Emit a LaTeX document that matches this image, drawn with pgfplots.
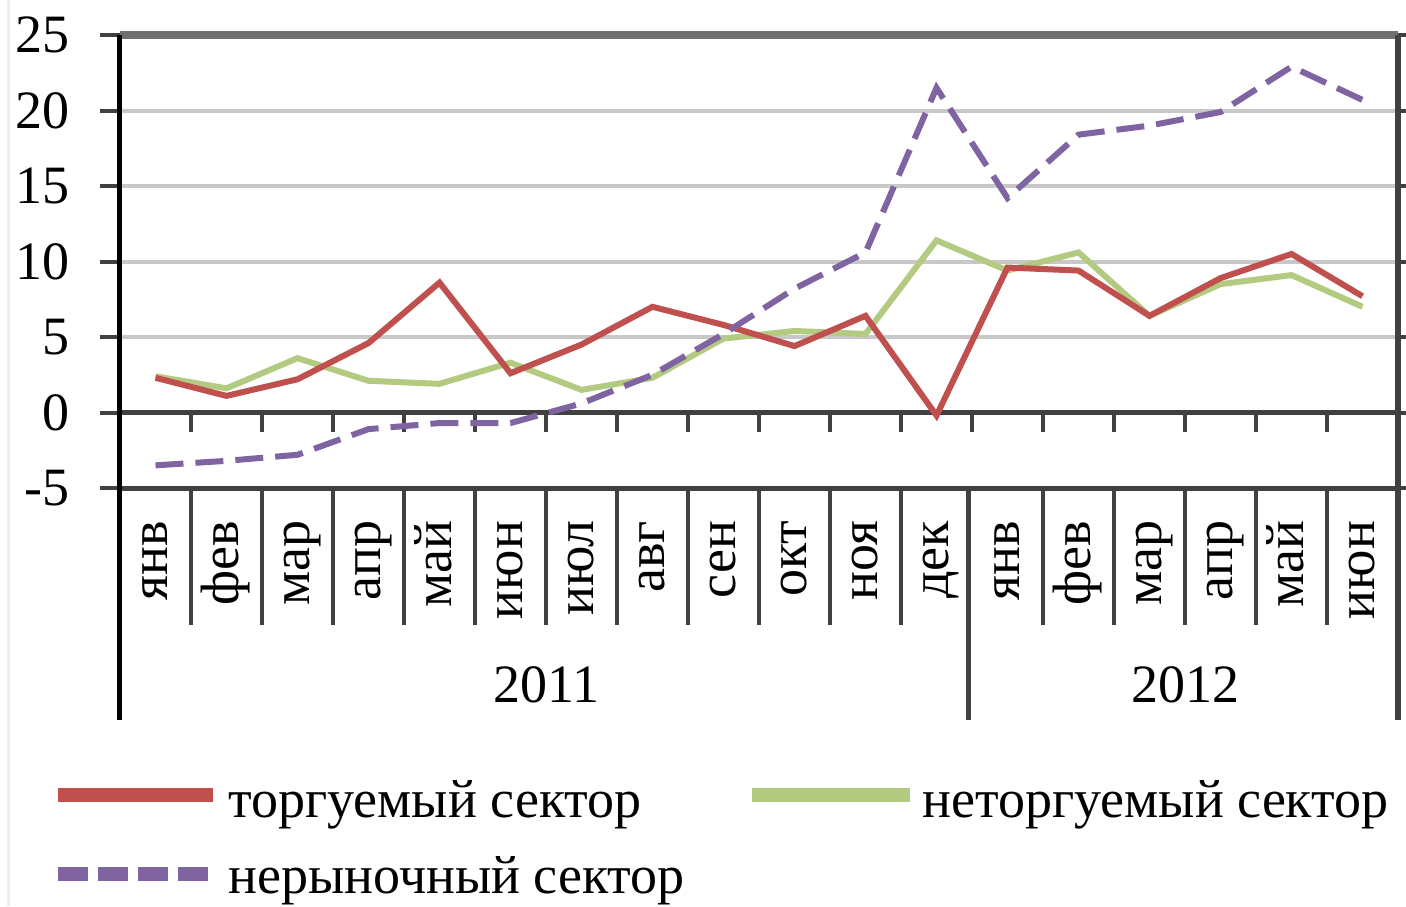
\documentclass[border=0pt]{standalone}
\usepackage{fontspec}
\setmainfont{Liberation Serif}
\usepackage{pgfplots}
\pgfplotsset{compat=1.18}
\definecolor{tred}{HTML}{C0504D}
\definecolor{tgreen}{HTML}{B3CB80}
\definecolor{tpurple}{HTML}{8064A2}
\definecolor{gridc}{HTML}{C8C8C8}
\definecolor{darkax}{HTML}{404040}
\definecolor{topax}{HTML}{707070}
\begin{document}
\fontsize{27}{32}\selectfont
\begin{tikzpicture}
\path[use as bounding box] (-60pt,-209pt) rectangle (643pt,244pt);
\draw[black!7, line width=1.5pt] (-55.5pt,-209pt) -- (-55.5pt,244pt);
\begin{axis}[
  at={(0pt,0pt)}, anchor=south west,
  scale only axis, width=639pt, height=226.5pt,
  xmin=-0.5, xmax=17.5, ymin=-5, ymax=25,
  axis line style={draw=none},
  xtick=\empty,
  ytick={-5,0,5,10,15,20,25},
  yticklabels={-5,0,5,10,15,20,25},
  tick align=outside, major tick length=10pt,
  ytick style={draw=darkax, line width=2pt},
  yticklabel style={font=\fontsize{27}{32}\selectfont, xshift=-6pt},
  ymajorgrids, grid style={draw=gridc, line width=2pt},
  clip=false,
]
% frame and axis lines
\draw[topax, line width=4pt] (axis cs:-0.5,25) -- (axis cs:17.5,25);
\draw[darkax, line width=2.5pt] (axis cs:-0.5,0) -- (axis cs:17.5,0);
\draw[darkax, line width=2.5pt] (axis cs:-0.5,-5) -- (axis cs:17.5,-5);
\draw[darkax, line width=3pt] (axis cs:17.5,25) -- (axis cs:17.5,-20.36);
\draw[darkax, line width=2.5pt] (axis cs:11.45,-5) -- (axis cs:11.45,-20.36);
\draw[black, line width=2.5pt] (axis cs:-0.5,25) -- (axis cs:-0.5,-20.36);
\foreach \k in {0.5,1.5,...,16.5} {
  \edef\tmp{\noexpand\draw[darkax, line width=2pt] (axis cs:\k,0) -- (axis cs:\k,-1.32);}\tmp
}
\foreach \k in {0.5,1.5,...,10.5,12.5,13.5,...,16.5} {
  \edef\tmp{\noexpand\draw[darkax, line width=2pt] (axis cs:\k,-5) -- (axis cs:\k,-14.07);}\tmp
}
% month labels
\foreach \m [count=\i from 0] in {янв,фев,мар,апр,май,июн,июл,авг,сен,окт,ноя,дек,янв,фев,мар,апр,май,июн} {
  \edef\tmp{\noexpand\node[rotate=90, anchor=base east, inner sep=0pt, font=\noexpand\fontsize{27}{32}\noexpand\selectfont] at (axis cs:\i+0.17,-7.15) {\m};}\tmp
}
\node[font=\fontsize{27}{32}\selectfont] at (axis cs:5.5,-18.05) {2011};
\node[font=\fontsize{27}{32}\selectfont] at (axis cs:14.5,-18.05) {2012};

\addplot[tgreen, line width=3pt] coordinates {
(0,2.4) (1,1.6) (2,3.6) (3,2.1) (4,1.9) (5,3.3) (6,1.5) (7,2.3) (8,4.9) (9,5.4)
(10,5.2) (11,11.4) (12,9.4) (13,10.6) (14,6.4) (15,8.5) (16,9.1) (17,7.0)};
\addplot[tred, line width=3pt] coordinates {
(0,2.3) (1,1.1) (2,2.2) (3,4.6) (4,8.6) (5,2.6) (6,4.5) (7,7.0) (8,5.8) (9,4.4)
(10,6.4) (11,-0.2) (12,9.6) (13,9.4) (14,6.4) (15,8.9) (16,10.5) (17,7.7)};
\addplot[tpurple, line width=3pt, dash pattern=on 14pt off 6pt] coordinates {
(0,-3.5) (1,-3.2) (2,-2.8) (3,-1.1) (4,-0.7) (5,-0.7) (6,0.6) (7,2.5) (8,5.2) (9,8.2)
(10,10.6) (11,21.5) (12,14.2) (13,18.4) (14,19.0) (15,19.9) (16,22.9) (17,20.7)};
\end{axis}
% legend
\draw[tred, line width=7pt] (-31pt,-153.5pt) -- (46.5pt,-153.5pt);
\node[anchor=base west, inner sep=0pt] at (54pt,-164.5pt) {торгуемый сектор};
\draw[tgreen, line width=7pt] (316pt,-153.5pt) -- (395pt,-153.5pt);
\node[anchor=base west, inner sep=0pt] at (401pt,-164.5pt) {неторгуемый сектор};
\draw[tpurple, line width=7pt, dash pattern=on 15pt off 5pt] (-31pt,-193pt) -- (46.5pt,-193pt);
\node[anchor=base west, inner sep=0pt] at (54pt,-202.5pt) {нерыночный сектор};
\end{tikzpicture}
\end{document}
